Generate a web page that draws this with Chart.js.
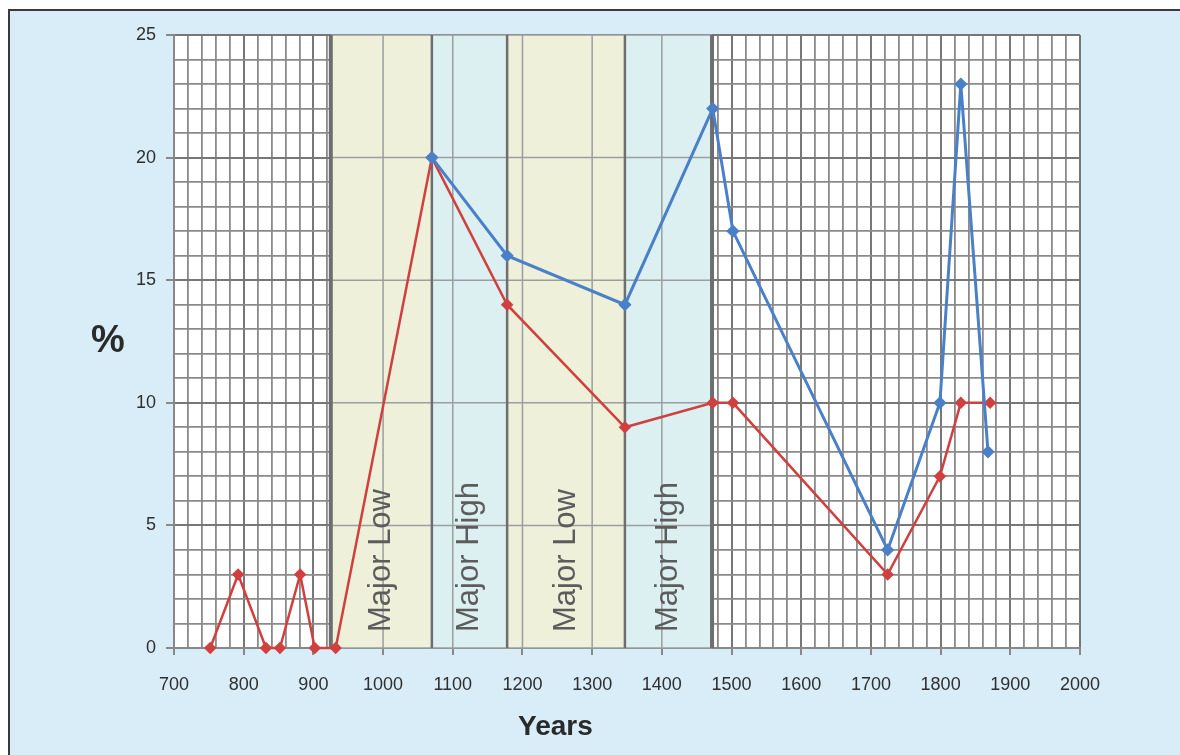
<!DOCTYPE html>
<html>
<head>
<meta charset="utf-8">
<script src="https://cdn.jsdelivr.net/npm/chart.js@4/dist/chart.umd.min.js"></script>
<style>
  html, body { margin: 0; padding: 0; background: #ffffff; }
  #wrap { width: 1180px; height: 755px; }
</style>
</head>
<body>
<div id="wrap"><canvas id="cycleChart" width="1180" height="755"></canvas></div>
<script>
// Data
const redYears = [752, 792, 832, 852, 881, 902, 932, 1070, 1178, 1347, 1473, 1502, 1724, 1799, 1829, 1871];
const redValues = [0, 3, 0, 0, 3, 0, 0, 20, 14, 9, 10, 10, 3, 7, 10, 10];
const blueYears = [1070, 1178, 1347, 1473, 1502, 1724, 1799, 1829, 1868];
const blueValues = [20, 16, 14, 22, 17, 4, 10, 23, 8];

// shaded periods
const bandStart = [925, 1070, 1178, 1347];
const bandEnd = [1070, 1178, 1347, 1472];
const bandLabels = ['Major Low', 'Major High', 'Major Low', 'Major High'];

const xTickLabels = [700, 800, 900, 1000, 1100, 1200, 1300, 1400, 1500, 1600, 1700, 1800, 1900, 2000];
const yTickLabels = [0, 5, 10, 15, 20, 25];

const lowColor = '#eef0da';
const highColor = '#ddf0f1';

function toPoints(xs, ys) {
  return xs.map((x, i) => ({ x: x, y: ys[i] }));
}

// background, border and shaded bands
const decorPlugin = {
  id: 'decor',
  beforeDraw(chart) {
    const c = chart.ctx;
    const a = chart.chartArea;
    c.save();
    c.fillStyle = '#ffffff';
    c.fillRect(0, 0, chart.width, chart.height);
    c.fillStyle = '#d9edf8';
    c.fillRect(9, 10, chart.width - 9, chart.height - 10);
    c.strokeStyle = '#3a3a3a';
    c.lineWidth = 2;
    c.beginPath();
    c.moveTo(9, chart.height);
    c.lineTo(9, 10);
    c.lineTo(chart.width, 10);
    c.stroke();
    c.fillStyle = '#ffffff';
    c.fillRect(a.left, a.top, a.width, a.height);
    c.restore();
  },
  beforeDatasetsDraw(chart) {
    const c = chart.ctx;
    const a = chart.chartArea;
    const xs = chart.scales.x;
    const ys = chart.scales.y;
    c.save();
    bandStart.forEach((s, i) => {
      const x0 = xs.getPixelForValue(s);
      const x1 = xs.getPixelForValue(bandEnd[i]);
      c.fillStyle = bandLabels[i] === 'Major Low' ? lowColor : highColor;
      c.fillRect(x0, a.top, x1 - x0, a.bottom - a.top);
      // major grid only inside bands
      c.strokeStyle = '#9a9e9e';
      c.lineWidth = 1.5;
      xTickLabels.forEach(v => {
        if (v > s && v < bandEnd[i]) {
          const px = xs.getPixelForValue(v);
          c.beginPath();
          c.moveTo(px, a.top);
          c.lineTo(px, a.bottom);
          c.stroke();
        }
      });
      yTickLabels.forEach(v => {
        const py = ys.getPixelForValue(v);
        c.beginPath();
        c.moveTo(x0, py);
        c.lineTo(x1, py);
        c.stroke();
      });
    });
    // band edges
    const edges = bandStart.concat([bandEnd[bandEnd.length - 1]]);
    edges.forEach((e, i) => {
      const px = xs.getPixelForValue(e);
      c.strokeStyle = '#6e6e6e';
      c.lineWidth = (i === 0 || i === edges.length - 1) ? 4 : 2.5;
      c.beginPath();
      c.moveTo(px, a.top);
      c.lineTo(px, a.bottom);
      c.stroke();
    });
    // band labels
    c.fillStyle = '#5c5c5c';
    c.font = '31px "Liberation Sans", Arial, sans-serif';
    c.textAlign = 'left';
    c.textBaseline = 'middle';
    bandStart.forEach((s, i) => {
      const cx = (xs.getPixelForValue(s) + xs.getPixelForValue(bandEnd[i])) / 2;
      c.save();
      c.translate(cx, a.bottom - 16);
      c.rotate(-Math.PI / 2);
      c.fillText(bandLabels[i], 0, 0);
      c.restore();
    });
    c.restore();
  },
  afterDraw(chart) {
    const c = chart.ctx;
    const a = chart.chartArea;
    c.save();
    c.fillStyle = '#2a2a2a';
    c.textAlign = 'center';
    c.textBaseline = 'alphabetic';
    c.font = 'bold 28px "Liberation Sans", Arial, sans-serif';
    c.fillText('Years', a.left + a.width * 0.421, 735);
    c.textBaseline = 'middle';
    c.font = 'bold 38px "Liberation Sans", Arial, sans-serif';
    c.fillText('%', 108, (a.top + a.bottom) / 2);
    c.restore();
  }
};

const ctx = document.getElementById('cycleChart').getContext('2d');
const cycleChart = new Chart(ctx, {
  type: 'line',
  data: {
    datasets: [
      {
        label: 'Blue',
        data: toPoints(blueYears, blueValues),
        borderColor: '#4a80c8',
        backgroundColor: '#4a80c8',
        borderWidth: 3,
        pointStyle: 'rectRot',
        pointRadius: 4.5,
        clip: false
      },
      {
        label: 'Red',
        data: toPoints(redYears, redValues),
        borderColor: '#d0403f',
        backgroundColor: '#d0403f',
        borderWidth: 2.5,
        pointStyle: 'rectRot',
        pointRadius: 4.5,
        clip: false
      }
    ]
  },
  options: {
    responsive: false,
    animation: false,
    layout: { padding: { left: 0, top: 35, right: 100, bottom: 0 } },
    plugins: {
      legend: { display: false },
      tooltip: { enabled: false }
    },
    scales: {
      x: {
        type: 'linear',
        min: 700,
        max: 2000,
        afterFit: s => { s.height = 107; },
        ticks: {
          stepSize: 20,
          autoSkip: false,
          maxRotation: 0,
          padding: 19,
          color: '#2f2f2f',
          font: { family: '"Liberation Sans", Arial, sans-serif', size: 18 },
          callback: v => (xTickLabels.includes(v) ? String(v) : '')
        },
        grid: {
          color: c => (c.tick && c.tick.value % 100 === 0 ? '#777777' : '#8a8a8a'),
          lineWidth: c => (c.tick && c.tick.value % 100 === 0 ? 2 : 1.8),
          tickLength: 7,
          tickColor: c => (c.tick && c.tick.value % 100 === 0 ? '#888888' : 'rgba(0,0,0,0)')
        },
        border: { color: '#888888', width: 2 }
      },
      y: {
        min: 0,
        max: 25,
        afterFit: s => { s.width = 174; },
        ticks: {
          stepSize: 1,
          autoSkip: false,
          padding: 10,
          color: '#2f2f2f',
          font: { family: '"Liberation Sans", Arial, sans-serif', size: 18 },
          callback: v => (yTickLabels.includes(v) ? String(v) : '')
        },
        grid: {
          color: c => (c.tick && c.tick.value % 5 === 0 ? '#777777' : '#8a8a8a'),
          lineWidth: c => (c.tick && c.tick.value % 5 === 0 ? 2 : 1.8),
          tickLength: 8,
          tickColor: c => (c.tick && c.tick.value % 5 === 0 ? '#888888' : 'rgba(0,0,0,0)')
        },
        border: { color: '#888888', width: 2 }
      }
    }
  },
  plugins: [decorPlugin]
});
</script>
</body>
</html>
